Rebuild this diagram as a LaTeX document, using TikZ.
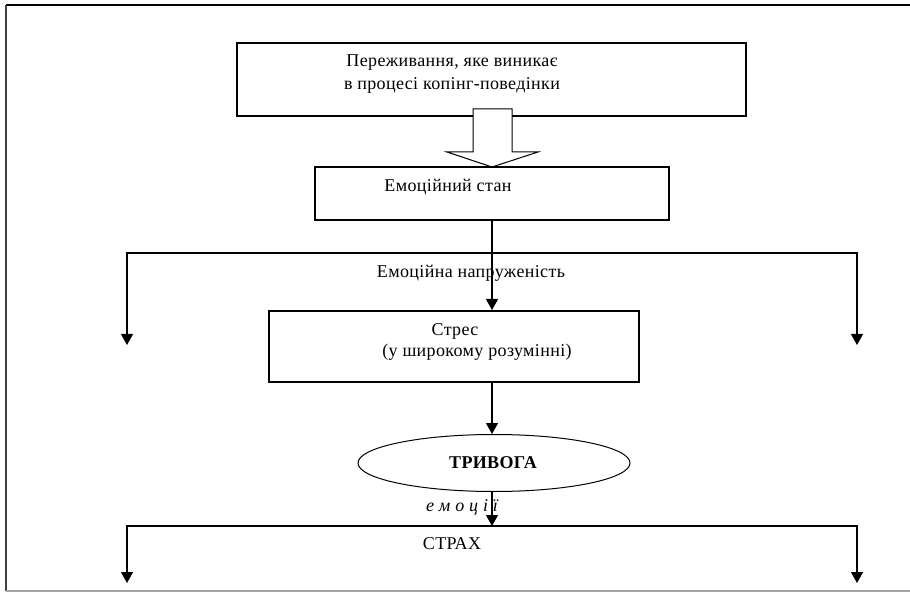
\documentclass[tikz,border=0pt]{standalone}
\usepackage{fontspec}
\setmainfont{Liberation Serif}[LetterSpace=2]
\usetikzlibrary{arrows.meta,shapes.geometric}
\begin{document}
\begin{tikzpicture}[x=1pt,y=-1pt,
  box/.style={draw,line width=2pt,rectangle,inner sep=0pt},
  txt/.style={inner sep=0pt,font=\fontsize{18}{23}\selectfont,align=center},
  arr/.style={line width=1.3pt,-{Triangle[width=12pt,length=11pt]}},
  ln/.style={line width=1.3pt}]
\useasboundingbox (0,0) rectangle (910,593);
% frame
\draw[line width=2pt] (6,5) -- (910,5);
\draw[line width=1.5pt,black!75] (6,5) -- (6,591);
\draw[line width=1.5pt,black!35] (6,591) -- (910,591);
% top box
\node[box,minimum width=509pt,minimum height=73pt] (top) at (491.5,79.5) {};
\node[txt] (toptxt) at (452,74) {Переживання, яке виникає\\в процесі копінг-поведінки};
% hollow arrow
\draw[line width=1pt,fill=white] (473,109) -- (512,109) -- (512,152) -- (538,152) -- (492,167) -- (447,152) -- (473,152) -- cycle;
% emotional state
\node[box,minimum width=354pt,minimum height=53pt] (emo) at (492,193.5) {};
\node[txt] (emotxt) at (448,187) {Емоційний стан};
% branch
\coordinate (c1) at (492,253);
\coordinate (L1) at (127,345);
\coordinate (R1) at (857,345);
\node[box,minimum width=370pt,minimum height=71pt] (stress) at (454,346.5) {};
\draw[arr] (emo.south -| c1) -- (stress.north -| c1);
\draw[arr] (c1) -| (L1);
\draw[arr] (c1) -| (R1);
\node[txt] (tens) at (471,273) {Емоційна напруженість};
\node[txt] (stxt1) at (455,331) {Стрес};
\node[txt] (stxt2) at (477,352) {(у широкому розумінні)};
% anxiety
\node[draw,line width=1pt,ellipse,minimum width=272pt,minimum height=57pt,inner sep=0pt] (ell) at (494,463) {};
\node[txt,font=\fontsize{18}{20}\selectfont\bfseries] (anx) at (493,463) {ТРИВОГА};
\draw[arr] (stress.south -| c1) -- (ell.north -| c1);
\coordinate (c2) at (492,526);
\coordinate (L2) at (127,583);
\coordinate (R2) at (857,583);
\draw[arr] (ell.south -| c2) -- (c2);
\draw[arr] (c2) -| (L2);
\draw[arr] (c2) -| (R2);
\node[txt,font=\fontsize{18}{20}\selectfont\itshape] (emot) at (462,507) {е м о ц і ї};
\node[txt] (fear) at (452,544) {СТРАХ};
\end{tikzpicture}
\end{document}
